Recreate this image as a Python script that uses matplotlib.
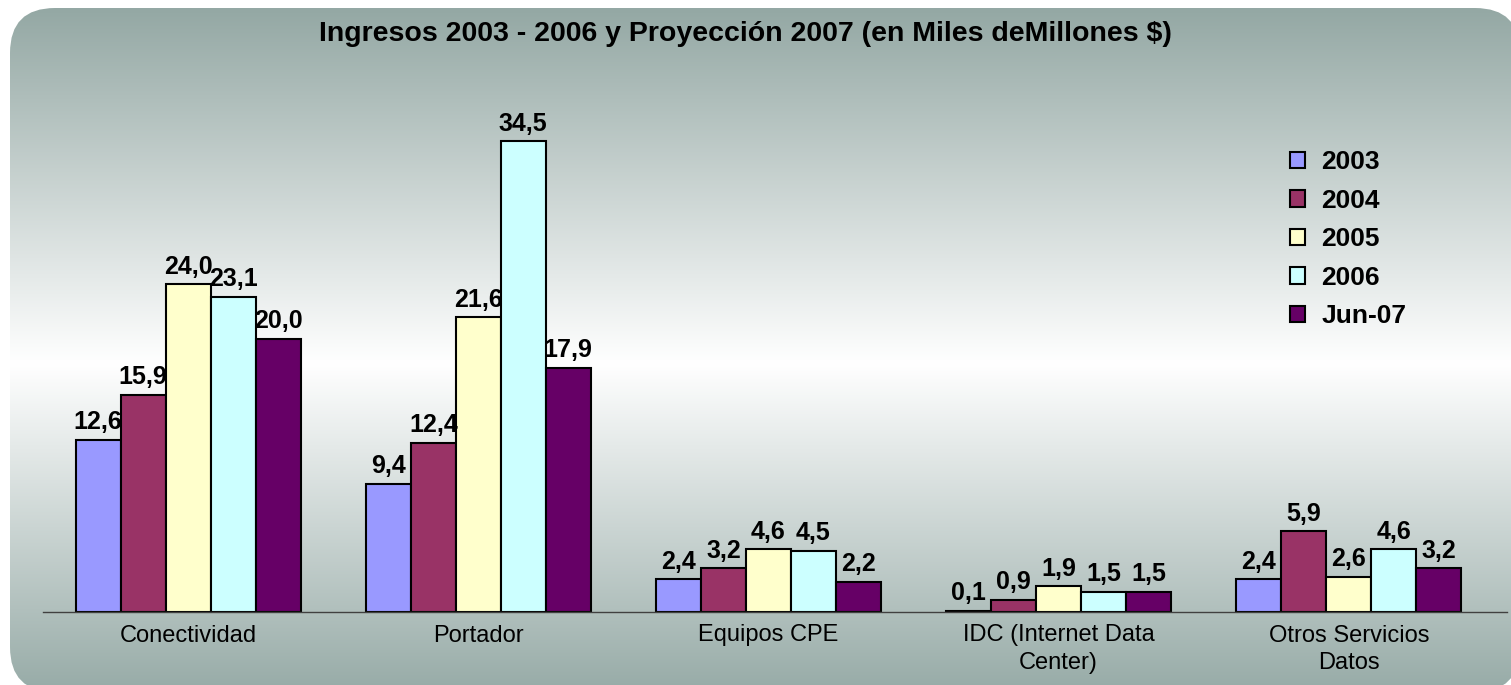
import matplotlib
matplotlib.use('Agg')
import matplotlib.pyplot as plt
import numpy as np
from matplotlib.patches import FancyBboxPatch
from matplotlib.colors import LinearSegmentedColormap

plt.rcParams['font.family'] = ['Liberation Sans', 'DejaVu Sans']

categories = ['Conectividad', 'Portador', 'Equipos CPE',
              'IDC (Internet Data\nCenter)', 'Otros Servicios\nDatos']
series = ['2003', '2004', '2005', '2006', 'Jun-07']
v2003 = [12.6, 9.4, 2.4, 0.1, 2.4]
v2004 = [15.9, 12.4, 3.2, 0.9, 5.9]
v2005 = [24.0, 21.6, 4.6, 1.9, 2.6]
v2006 = [23.1, 34.5, 4.5, 1.5, 4.6]
vjun07 = [20.0, 17.9, 2.2, 1.5, 3.2]
colors = ['#9999FF', '#993366', '#FFFFCC', '#CCFFFF', '#660066']

W, H = 1511, 685
fig = plt.figure(figsize=(W / 100, H / 100), dpi=100)

# background panel with vertical gradient and rounded corners
bg = fig.add_axes([0, 0, 1, 1])
bg.set_xlim(0, W)
bg.set_ylim(H, 0)
bg.axis('off')
cmap = LinearSegmentedColormap.from_list('bg', [(0, '#94a8a4'), (0.52, '#ffffff'), (1, '#97aba7')])
grad = np.linspace(0, 1, 256).reshape(-1, 1)
im = bg.imshow(grad, cmap=cmap, aspect='auto', extent=(10, 1520, 692, 8), interpolation='bilinear')
panel = FancyBboxPatch((10 + 45, 8 + 45), 1510 - 90, 684 - 90,
                       boxstyle='round,pad=45', transform=bg.transData,
                       facecolor='none', edgecolor='none')
bg.add_patch(panel)
im.set_clip_path(panel)

ax = fig.add_axes([43 / W, 73 / H, 1464 / W, 546 / H])
ax.patch.set_alpha(0)
ax.set_ylim(0, 40)
ax.set_xlim(-0.5, 4.545)

x = np.arange(len(categories))
bw = 0.155
all_vals = [v2003, v2004, v2005, v2006, vjun07]
for i, (vals, name, c) in enumerate(zip(all_vals, series, colors)):
    pos = x + (i - 2) * bw
    bars = ax.bar(pos, vals, bw, color=c, edgecolor='black', linewidth=1.5, label=name)
    for p, v in zip(pos, vals):
        ax.annotate(f'{v:.1f}'.replace('.', ','), (p, v), xytext=(0, 4),
                    textcoords='offset points', ha='center', va='bottom',
                    fontsize=18, fontweight='bold')

ax.set_xticks(x)
ax.set_xticklabels(categories, fontsize=17, linespacing=1.35)
ax.tick_params(axis='x', length=0, pad=9)
ax.set_yticks([])
for s in ['top', 'right', 'left']:
    ax.spines[s].set_visible(False)
ax.spines['bottom'].set_color('#404040')
ax.spines['bottom'].set_linewidth(1)

fig.text(745 / W, 1 - 34 / H, 'Ingresos 2003 - 2006 y Proyección 2007 (en Miles deMillones $)',
         ha='center', va='center', fontsize=20.5, fontweight='bold')

leg = fig.legend(loc='upper left', bbox_to_anchor=(1277 / W, 1 - 137 / H), frameon=False,
                 prop={'size': 19, 'weight': 'bold'}, handlelength=0.57, handleheight=0.57,
                 labelspacing=0.55, handletextpad=0.6, borderpad=0)

fig.savefig('out.png', dpi=100)
